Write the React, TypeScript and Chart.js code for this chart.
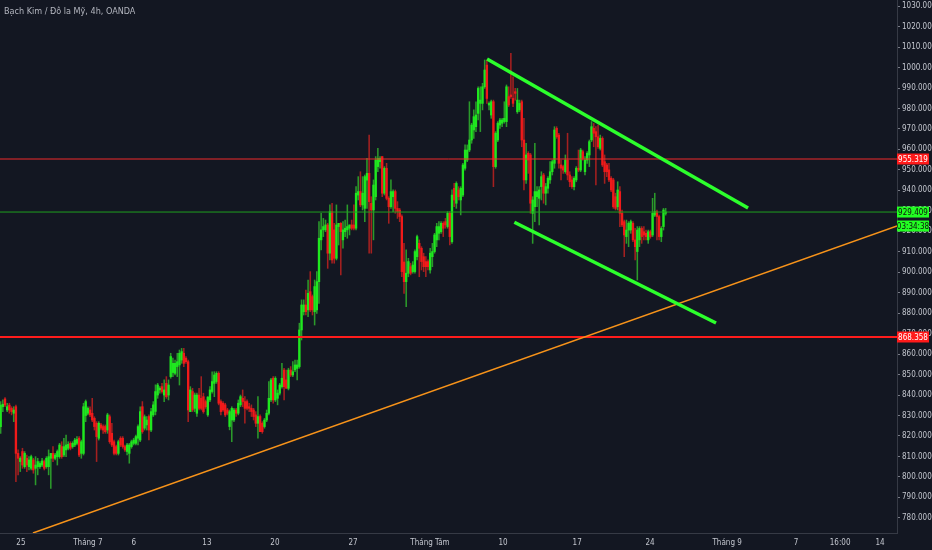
import React, { useEffect, useRef } from 'react';
import { Chart, registerables } from 'chart.js';

Chart.register(...registerables);

// ---- OHLC series (4h candles, XPT/USD) ----
const opens: number[] = [
  824.6, 834.3, 838.1, 832.7, 835.1, 833.5, 831.1, 834.3, 811.5, 807.5,
  812.4, 805.0, 809.1, 805.0, 804.2, 808.3, 804.2, 805.0, 805.0, 805.8,
  807.5, 805.0, 805.0, 809.1, 811.5, 809.1, 809.9, 809.9, 814.8, 810.7,
  813.2, 814.0, 816.4, 814.8, 815.6, 816.4, 818.9, 811.5, 811.5, 830.0,
  831.1, 832.7, 831.1, 828.6, 826.2, 818.9, 825.4, 824.6, 824.6, 822.9,
  829.4, 821.3, 817.2, 814.8, 811.5, 818.9, 818.9, 814.8, 812.4, 811.5,
  814.8, 816.4, 816.4, 818.9, 818.0, 834.3, 823.8, 825.4, 829.5, 822.9,
  830.3, 832.0, 840.0, 842.5, 844.1, 840.0, 845.7, 840.0, 849.0, 851.0,
  850.6, 853.9, 854.7, 857.1, 860.4, 858.0, 856.3, 831.9, 841.7, 833.5,
  831.1, 840.0, 838.4, 839.2, 836.8, 830.3, 837.6, 841.7, 845.7, 846.6,
  850.6, 836.8, 836.0, 835.2, 832.7, 824.6, 827.8, 827.8, 832.7, 831.1,
  835.2, 838.4, 836.8, 836.8, 834.3, 833.5, 832.7, 830.3, 826.2, 829.5,
  826.2, 824.6, 827.8, 831.1, 837.6, 848.2, 837.6, 838.4, 840.9, 844.1,
  852.2, 847.4, 843.3, 852.2, 849.8, 852.3, 853.0, 853.9, 871.8, 880.7,
  884.0, 881.6, 890.5, 888.1, 880.7, 881.6, 895.4, 915.8, 920.7, 920.7,
  923.1, 909.3, 929.6, 920.7, 906.8, 922.3, 923.9, 915.8, 919.8, 920.7,
  921.5, 923.1, 923.1, 921.5, 937.7, 939.4, 932.9, 931.2, 945.0, 948.3,
  933.7, 930.4, 936.9, 951.6, 954.0, 956.5, 938.6, 950.8, 936.1, 932.0,
  936.9, 939.4, 931.2, 930.4, 927.2, 905.0, 895.4, 899.5, 902.7, 900.3,
  900.3, 907.6, 914.1, 911.7, 907.6, 905.2, 905.2, 901.1, 907.6, 910.1,
  915.8, 919.0, 919.8, 923.9, 924.7, 922.3, 928.8, 914.9, 941.0, 933.7,
  940.2, 935.3, 937.7, 950.8, 954.8, 959.7, 964.6, 969.5, 971.1, 977.6,
  982.5, 982.5, 990.6, 1001.2, 981.7, 976.8, 983.3, 951.6, 964.6, 971.9,
  972.8, 973.6, 973.6, 985.8, 986.6, 984.9, 988.2, 978.4, 979.3, 983.3,
  964.6, 945.1, 958.1, 957.3, 928.8, 932.0, 936.9, 936.1, 941.8, 947.5,
  938.6, 941.0, 945.1, 949.1, 953.2, 970.3, 967.0, 952.4, 951.6, 949.1,
  954.8, 947.5, 945.1, 941.8, 945.1, 950.8, 949.9, 958.9, 949.1, 954.8,
  957.3, 964.6, 970.3, 968.7, 966.2, 960.5, 965.4, 954.0, 952.4, 950.0,
  945.9, 945.1, 936.9, 932.0, 939.4, 928.8, 924.7, 917.4, 920.6, 920.6,
  923.9, 915.8, 910.1, 915.8, 921.4, 919.8, 919.0, 915.8, 919.8, 918.2,
  927.9, 929.6, 927.2, 917.4, 922.3, 928.8,
];

const highs: number[] = [
  836.8, 837.6, 838.7, 836.0, 836.0, 834.3, 834.3, 835.1, 813.2, 809.9,
  814.0, 812.4, 810.7, 809.9, 810.7, 809.1, 809.9, 809.1, 807.5, 809.1,
  808.3, 809.9, 813.2, 811.5, 814.8, 811.5, 813.2, 816.4, 817.2, 818.9,
  820.5, 817.2, 817.2, 817.2, 818.9, 819.7, 819.7, 818.0, 836.0, 837.6,
  834.3, 834.3, 838.4, 829.4, 827.0, 827.0, 826.2, 825.4, 825.4, 831.1,
  830.3, 826.2, 818.0, 815.6, 818.0, 819.7, 819.7, 815.6, 816.4, 816.4,
  818.0, 818.9, 820.5, 825.4, 834.3, 836.8, 830.3, 829.5, 830.3, 833.5,
  836.8, 845.0, 845.7, 844.1, 845.7, 847.4, 849.0, 847.4, 860.4, 858.0,
  857.1, 860.4, 862.0, 862.8, 862.8, 858.8, 857.1, 844.1, 843.3, 841.0,
  840.9, 843.3, 849.0, 840.9, 837.6, 839.2, 844.1, 851.4, 851.4, 851.4,
  851.4, 837.6, 836.8, 836.0, 833.5, 832.7, 834.3, 833.5, 833.5, 837.6,
  840.0, 842.5, 839.2, 837.6, 836.0, 835.2, 833.5, 831.9, 839.2, 830.3,
  827.0, 828.6, 832.7, 846.6, 848.2, 849.0, 849.0, 842.5, 845.7, 855.5,
  853.1, 852.2, 853.1, 853.9, 856.3, 857.1, 857.1, 875.1, 886.5, 886.5,
  891.3, 896.2, 900.3, 888.9, 896.2, 900.3, 924.7, 928.8, 926.3, 925.5,
  923.9, 932.9, 933.7, 923.9, 932.9, 923.9, 924.2, 924.7, 925.5, 932.9,
  923.1, 925.5, 932.9, 941.8, 946.7, 949.1, 946.7, 947.5, 955.6, 967.0,
  936.9, 945.1, 956.5, 960.5, 956.5, 956.5, 951.6, 953.2, 936.9, 945.1,
  940.2, 940.2, 934.5, 931.2, 928.0, 914.1, 910.9, 906.8, 904.4, 905.2,
  910.9, 918.2, 915.8, 912.5, 909.3, 907.6, 906.0, 911.7, 914.1, 919.0,
  923.9, 924.7, 924.7, 924.7, 926.3, 929.6, 929.6, 940.2, 943.4, 944.2,
  941.8, 941.8, 953.2, 962.2, 962.2, 983.3, 972.8, 979.3, 983.3, 990.6,
  990.6, 992.3, 1003.7, 1003.7, 983.3, 984.1, 984.1, 968.7, 973.6, 975.2,
  975.2, 983.3, 991.5, 990.6, 1006.9, 995.5, 989.8, 989.8, 984.1, 984.1,
  975.2, 963.0, 958.9, 958.1, 936.9, 963.0, 941.8, 941.8, 949.1, 948.3,
  943.4, 946.7, 954.0, 954.8, 971.1, 971.1, 967.9, 954.8, 952.4, 957.3,
  967.9, 949.1, 946.7, 946.7, 951.6, 959.7, 960.5, 959.7, 956.5, 958.9,
  964.6, 973.6, 972.7, 971.1, 971.9, 967.0, 966.2, 957.3, 953.2, 953.2,
  946.7, 945.9, 938.6, 944.2, 941.8, 930.4, 925.5, 925.5, 924.7, 925.5,
  924.7, 921.4, 922.3, 922.3, 922.3, 922.3, 920.6, 920.6, 920.6, 936.1,
  938.6, 930.4, 927.9, 922.3, 931.2, 931.2,
];

const lows: number[] = [
  821.3, 831.9, 834.3, 831.9, 831.1, 830.3, 827.0, 797.7, 801.0, 802.6,
  804.2, 804.2, 802.6, 803.4, 803.4, 801.8, 796.1, 801.0, 804.2, 805.0,
  803.4, 804.2, 801.0, 794.4, 807.5, 808.3, 805.8, 809.1, 809.1, 809.9,
  809.9, 813.2, 813.2, 814.0, 814.8, 815.6, 809.9, 809.1, 810.7, 827.0,
  830.3, 829.4, 827.0, 822.9, 807.5, 818.0, 822.9, 821.3, 821.3, 821.3,
  816.4, 814.8, 810.7, 810.7, 810.7, 814.8, 814.0, 812.4, 810.7, 806.7,
  814.0, 815.6, 815.6, 815.6, 817.2, 821.3, 822.9, 822.9, 818.1, 822.1,
  829.5, 830.3, 838.4, 840.9, 840.9, 836.8, 838.4, 837.6, 848.2, 849.0,
  849.8, 849.0, 844.9, 855.5, 853.9, 855.5, 827.0, 831.9, 831.9, 831.9,
  829.5, 832.7, 832.7, 831.1, 833.5, 829.5, 836.8, 840.9, 839.2, 845.7,
  835.2, 830.3, 832.0, 829.5, 830.3, 823.0, 817.2, 827.0, 829.5, 830.3,
  834.3, 834.3, 826.2, 832.7, 831.9, 829.5, 827.8, 824.6, 818.9, 822.1,
  821.3, 823.8, 827.0, 830.3, 836.8, 836.0, 836.8, 835.2, 840.0, 843.3,
  837.6, 843.3, 842.5, 849.0, 849.0, 851.4, 847.4, 853.1, 866.9, 879.1,
  879.1, 878.3, 880.7, 879.1, 874.2, 879.9, 884.8, 910.9, 917.4, 919.8,
  901.9, 906.0, 904.4, 904.4, 906.0, 913.3, 898.7, 911.7, 917.4, 916.6,
  918.2, 920.7, 920.7, 920.7, 935.3, 932.0, 930.4, 924.7, 931.2, 909.3,
  909.3, 915.8, 935.3, 949.1, 950.8, 936.9, 937.7, 935.3, 923.9, 931.2,
  929.6, 928.8, 926.3, 924.7, 897.8, 889.7, 883.2, 897.8, 898.7, 899.5,
  899.5, 906.0, 897.8, 901.1, 900.3, 897.8, 901.1, 899.5, 902.7, 909.3,
  912.5, 915.8, 919.0, 917.4, 921.5, 921.5, 913.3, 914.1, 932.0, 931.2,
  935.3, 928.0, 936.9, 949.9, 954.0, 958.9, 963.0, 965.4, 968.7, 974.4,
  968.7, 979.3, 989.8, 982.5, 979.3, 975.2, 941.8, 950.8, 963.8, 970.3,
  971.1, 972.8, 971.1, 980.9, 984.9, 980.9, 984.1, 977.6, 978.4, 961.3,
  940.2, 943.4, 948.3, 928.8, 914.1, 924.7, 932.0, 923.1, 935.3, 933.7,
  932.9, 938.6, 943.4, 947.5, 950.8, 965.4, 950.8, 945.1, 948.3, 948.3,
  945.1, 941.8, 941.0, 940.2, 944.2, 949.1, 949.1, 954.8, 947.5, 953.2,
  951.6, 963.8, 961.3, 942.6, 960.5, 959.7, 951.6, 943.4, 946.7, 944.2,
  939.4, 931.2, 930.4, 930.4, 922.3, 922.3, 907.6, 914.1, 912.5, 919.0,
  914.9, 906.0, 896.2, 912.5, 914.1, 915.8, 915.8, 914.1, 916.6, 917.4,
  927.2, 915.8, 915.8, 914.9, 920.6, 927.9,
];

const closes: number[] = [
  835.1, 835.5, 835.1, 834.3, 832.7, 831.9, 832.7, 811.5, 809.1, 809.1,
  805.8, 811.5, 805.8, 808.3, 809.9, 803.4, 805.8, 807.5, 806.6, 807.8,
  804.2, 809.1, 809.9, 811.5, 809.1, 810.7, 812.4, 815.6, 809.9, 814.8,
  815.6, 815.9, 814.0, 816.4, 818.0, 818.3, 810.7, 817.2, 834.3, 836.8,
  833.5, 830.3, 827.8, 824.6, 819.7, 826.2, 823.8, 822.9, 822.1, 830.3,
  817.2, 815.6, 811.5, 811.5, 817.2, 815.6, 814.8, 813.2, 815.6, 815.6,
  817.2, 818.0, 819.7, 824.6, 831.9, 822.1, 829.4, 827.8, 822.9, 831.9,
  835.2, 841.7, 844.9, 843.3, 841.7, 842.5, 839.2, 844.9, 858.8, 855.5,
  855.5, 856.3, 860.4, 861.2, 855.5, 856.3, 832.7, 842.5, 832.7, 840.0,
  840.0, 833.5, 833.5, 831.9, 834.3, 839.0, 842.5, 846.6, 849.8, 850.6,
  836.0, 831.9, 832.7, 830.3, 831.1, 831.9, 833.5, 832.7, 831.1, 836.0,
  839.2, 836.8, 833.5, 833.5, 833.5, 831.9, 829.5, 826.2, 829.5, 822.1,
  822.1, 827.8, 831.1, 838.4, 847.4, 837.6, 848.2, 840.9, 844.9, 848.2,
  844.1, 843.3, 852.2, 849.8, 851.4, 854.7, 854.7, 871.8, 884.0, 884.0,
  880.7, 889.7, 881.6, 881.6, 893.0, 895.4, 916.6, 920.7, 922.3, 923.1,
  909.3, 929.6, 906.0, 906.8, 923.1, 923.9, 919.8, 920.7, 921.5, 922.3,
  923.1, 921.5, 921.5, 938.6, 939.4, 932.9, 938.6, 946.7, 948.3, 934.5,
  930.4, 942.6, 954.8, 955.6, 955.6, 938.6, 950.8, 936.1, 932.0, 939.4,
  939.4, 931.2, 929.6, 927.2, 900.3, 895.4, 899.5, 905.2, 899.5, 903.5,
  910.1, 917.4, 911.7, 905.2, 902.7, 902.7, 902.7, 909.3, 910.1, 918.2,
  922.3, 922.3, 923.9, 921.5, 923.1, 928.8, 917.4, 937.7, 935.3, 943.4,
  936.9, 941.0, 952.4, 959.7, 959.7, 964.6, 971.9, 976.0, 976.8, 989.8,
  984.1, 990.6, 998.8, 984.9, 982.5, 983.3, 951.6, 967.9, 972.8, 974.4,
  974.4, 975.2, 990.6, 981.7, 985.8, 982.5, 987.4, 984.1, 982.5, 964.6,
  945.1, 957.3, 954.8, 933.7, 935.3, 939.4, 939.4, 940.2, 946.7, 938.6,
  941.8, 945.9, 949.1, 954.0, 969.5, 966.2, 953.2, 950.8, 949.9, 954.8,
  947.5, 944.2, 941.8, 945.9, 950.8, 949.9, 959.7, 955.6, 954.8, 958.1,
  963.8, 971.1, 967.9, 966.2, 961.3, 965.4, 952.4, 949.1, 949.1, 945.1,
  940.2, 932.0, 931.2, 940.2, 928.8, 923.1, 918.2, 920.6, 923.9, 924.7,
  915.8, 912.5, 920.6, 921.4, 917.4, 918.2, 917.4, 919.8, 917.4, 928.8,
  929.6, 927.2, 917.4, 921.4, 930.4, 929.409,
];

// ---- time axis: bar index under each date label ----
const xTickIndex: number[] = [9.3, 40.0, 61.1, 94.6, 125.8, 161.6, 196.9, 230.4, 264.4, 297.8, 333.2, 364.8, 385.0, 403.3];
const xTickLabels: string[] = ['25', 'Tháng 7', '6', '13', '20', '27', 'Tháng Tám', '10', '17', '24', 'Tháng 9', '7', '16:00', '14'];

// ---- price axis ticks ----
const priceTicks: number[] = [780, 790, 800, 810, 820, 830, 840, 850, 860, 870, 880, 890, 900, 910, 920, 930, 940, 950, 960, 970, 980, 990, 1000, 1010, 1020, 1030];

// ---- horizontal price levels ----
const levelPrices: number[] = [955.319, 929.409, 868.358];
const countdownText = '03:34:38';

// ---- drawn trend lines (bar index, price) ----
const orangeTrendX: number[] = [14.8, 411.1];
const orangeTrendY: number[] = [772.6, 922.6];
const upperChannelX: number[] = [223.1, 342.8];
const upperChannelY: number[] = [1004.2, 931.4];
const lowerChannelX: number[] = [235.6, 328.1];
const lowerChannelY: number[] = [924.4, 875.2];

// ---- styling ----
const FONT = "'DejaVu Sans Condensed', 'Liberation Sans Narrow', 'DejaVu Sans', sans-serif";
const BG = '#131722';
const AXIS_TEXT = '#c3c6ce';
const BODY_UP = '#1fe81f';
const BODY_DN = '#f01a1a';
const WICK_UP = '#2b9a2b';
const WICK_DN = '#a52020';
const LEVEL_COLORS = ['#f02a2a', '#1f9f1f', '#ff1c1c'];
const LEVEL_WIDTHS = [1, 1, 2];
const TAG_FILL = ['#ff1a1a', '#22ff22', '#ff1a1a'];
const TAG_TEXT = ['#ffffff', '#101010', '#ffffff'];

const X_MIN = -0.3;
const X_MAX = 411.1;
const Y_MIN = 772.6;
const Y_MAX = 1033.0;

const bgPlugin = {
  id: 'bgFill',
  beforeDraw(chart: any) {
    const ctx = chart.ctx;
    ctx.save();
    ctx.fillStyle = BG;
    ctx.fillRect(0, 0, chart.width, chart.height);
    ctx.restore();
  },
};

const tagPlugin = {
  id: 'priceTags',
  afterDraw(chart: any) {
    const { ctx, chartArea } = chart;
    const y = chart.scales.y;
    const left = chartArea.right;
    const w = 32;
    const h = 11;
    ctx.save();
    ctx.font = `8px ${FONT}`;
    ctx.textAlign = 'center';
    ctx.textBaseline = 'middle';
    levelPrices.forEach((p, k) => {
      const py = y.getPixelForValue(p);
      ctx.fillStyle = TAG_FILL[k];
      ctx.fillRect(left, py - h / 2, w, h);
      ctx.fillStyle = TAG_TEXT[k];
      ctx.fillText(p.toFixed(3), left + w / 2, py + 0.5);
      if (k === 1) {
        const cy = py + 14;
        ctx.fillStyle = TAG_FILL[k];
        ctx.fillRect(left, cy - h / 2, w, h);
        ctx.fillStyle = TAG_TEXT[k];
        ctx.fillText(countdownText, left + w / 2, cy + 0.5);
      }
    });
    ctx.restore();
  },
};

const zeroPadding = (scale: any) => {
  scale.paddingTop = 0;
  scale.paddingBottom = 0;
  scale.paddingLeft = 0;
  scale.paddingRight = 0;
};

export default function App() {
  const canvasRef = useRef<HTMLCanvasElement | null>(null);

  useEffect(() => {
    if (!canvasRef.current) return;
    const up = closes.map((c, i) => c >= opens[i]);
    const wickData = lows.map((l, i) => ({ x: i, y: [l, highs[i]] }));
    const bodyData = opens.map((o, i) => ({ x: i, y: [o, closes[i]] }));
    const fullWidth = (v: number) => [
      { x: X_MIN, y: v },
      { x: X_MAX, y: v },
    ];
    const seg = (xs: number[], ys: number[]) => xs.map((x, i) => ({ x, y: ys[i] }));

    const lineBase = { type: 'line' as const, pointRadius: 0, fill: false, tension: 0 };

    const chart = new Chart(canvasRef.current, {
      type: 'bar',
      data: {
        datasets: [
          {
            type: 'bar',
            data: wickData as any,
            backgroundColor: up.map((u) => (u ? WICK_UP : WICK_DN)),
            barThickness: 0.9,
            maxBarThickness: 0.9,
            barPercentage: 0.41,
            categoryPercentage: 1,
            grouped: false,
            borderWidth: 0,
            order: 4,
          } as any,
          {
            type: 'bar',
            data: bodyData as any,
            backgroundColor: up.map((u) => (u ? BODY_UP : BODY_DN)),
            barThickness: 1.7,
            maxBarThickness: 1.7,
            barPercentage: 0.78,
            categoryPercentage: 1,
            grouped: false,
            borderWidth: 0,
            minBarLength: 1,
            order: 3,
          } as any,
          ...levelPrices.map((p, k) => ({
            ...lineBase,
            data: fullWidth(p),
            borderColor: LEVEL_COLORS[k],
            borderWidth: LEVEL_WIDTHS[k],
            order: 2,
          })),
          {
            ...lineBase,
            data: seg(orangeTrendX, orangeTrendY),
            borderColor: '#f7931a',
            borderWidth: 1.5,
            order: 1,
          },
          {
            ...lineBase,
            data: seg(upperChannelX, upperChannelY),
            borderColor: '#2cff2c',
            borderWidth: 3.5,
            borderCapStyle: 'butt',
            order: 0,
          },
          {
            ...lineBase,
            data: seg(lowerChannelX, lowerChannelY),
            borderColor: '#2cff2c',
            borderWidth: 3.5,
            borderCapStyle: 'butt',
            order: 0,
          },
        ] as any,
      },
      options: {
        animation: false,
        responsive: true,
        maintainAspectRatio: false,
        events: [],
        layout: { padding: 0 },
        plugins: {
          legend: { display: false },
          tooltip: { enabled: false },
          title: { display: false },
        },
        scales: {
          x: {
            type: 'linear',
            min: X_MIN,
            max: X_MAX,
            bounds: 'data',
            offset: false,
            grid: { display: true, drawOnChartArea: false, drawTicks: false, color: '#363a45' },
            border: { display: true, color: '#363a45', width: 1 },
            ticks: {
              autoSkip: false,
              maxRotation: 0,
              minRotation: 0,
              color: AXIS_TEXT,
              padding: 5,
              font: { size: 8, family: FONT },
              callback: (_v: any, i: number) => xTickLabels[i] ?? '',
            },
            afterBuildTicks: (scale: any) => {
              scale.ticks = xTickIndex.map((v) => ({ value: v }));
            },
            afterFit: (scale: any) => {
              scale.height = 17;
              zeroPadding(scale);
            },
          },
          y: {
            type: 'linear',
            position: 'right',
            min: Y_MIN,
            max: Y_MAX,
            bounds: 'data',
            grid: { display: true, drawOnChartArea: false, drawTicks: true, tickLength: 3, color: '#787b86' },
            border: { display: true, color: '#363a45', width: 1 },
            ticks: {
              color: AXIS_TEXT,
              padding: 2,
              font: { size: 8, family: FONT },
              callback: (v: any) => Number(v).toFixed(3),
            },
            afterBuildTicks: (scale: any) => {
              scale.ticks = priceTicks.map((v) => ({ value: v }));
            },
            afterFit: (scale: any) => {
              scale.width = 35;
              zeroPadding(scale);
            },
          },
        },
      } as any,
      plugins: [bgPlugin, tagPlugin],
    });

    return () => chart.destroy();
  }, []);

  return (
    <div
      style={{
        position: 'fixed',
        left: 0,
        top: 0,
        width: 932,
        height: 550,
        background: BG,
        overflow: 'hidden',
      }}
    >
      <canvas ref={canvasRef} />
      <div
        style={{
          position: 'absolute',
          left: 4,
          top: 6,
          fontFamily: FONT,
          fontSize: 9,
          color: '#b2b5be',
          whiteSpace: 'nowrap',
          pointerEvents: 'none',
        }}
      >
        Bạch Kim / Đô la Mỹ, 4h, OANDA
      </div>
    </div>
  );
}
